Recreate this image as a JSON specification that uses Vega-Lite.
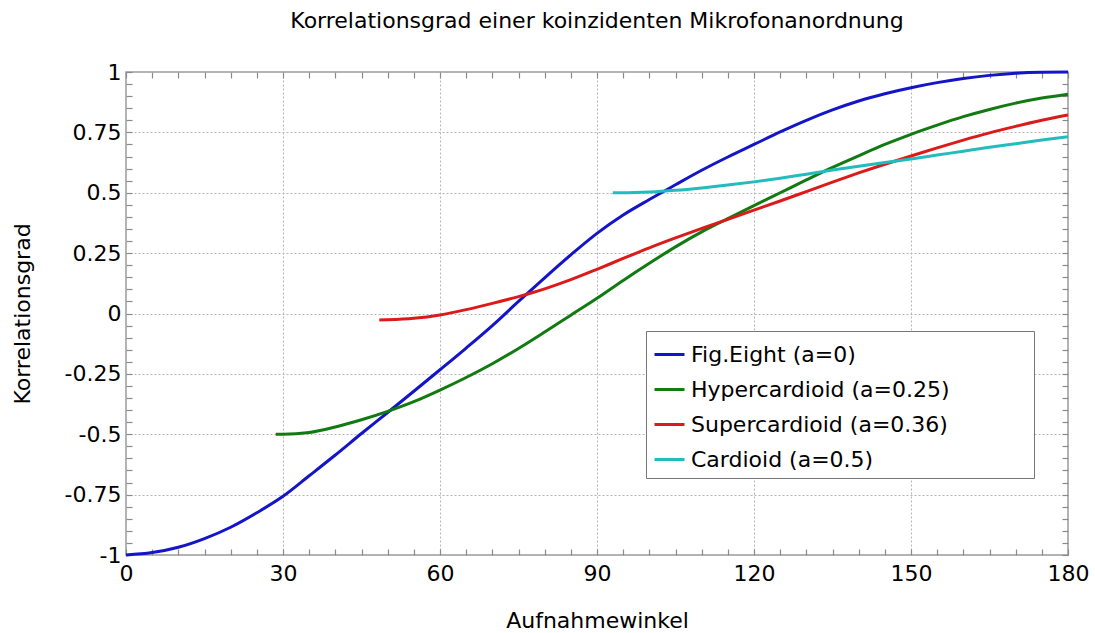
{
  "$schema": "https://vega.github.io/schema/vega-lite/v6.json",
  "autosize": {"type": "none"},
  "padding": {"left": 126, "top": 72, "right": 27, "bottom": 78},
  "width": 942,
  "height": 483,
  "background": "white",
  "title": {
    "text": "Korrelationsgrad einer koinzidenten Mikrofonanordnung",
    "frame": "group",
    "anchor": "middle",
    "offset": 28,
    "fontSize": 22,
    "fontWeight": "normal",
    "font": "DejaVu Sans",
    "color": "black"
  },
  "config": {
    "font": "DejaVu Sans",
    "view": {"stroke": "#9a9a9a", "strokeWidth": 1.5}
  },
  "data": {
    "values": [
      {"w": 0, "k": -1.0, "s": "Fig.Eight (a=0)"},
      {"w": 5, "k": -0.99, "s": "Fig.Eight (a=0)"},
      {"w": 10, "k": -0.968, "s": "Fig.Eight (a=0)"},
      {"w": 15, "k": -0.932, "s": "Fig.Eight (a=0)"},
      {"w": 20, "k": -0.885, "s": "Fig.Eight (a=0)"},
      {"w": 25, "k": -0.825, "s": "Fig.Eight (a=0)"},
      {"w": 30, "k": -0.757, "s": "Fig.Eight (a=0)"},
      {"w": 35, "k": -0.672, "s": "Fig.Eight (a=0)"},
      {"w": 40, "k": -0.586, "s": "Fig.Eight (a=0)"},
      {"w": 45, "k": -0.497, "s": "Fig.Eight (a=0)"},
      {"w": 50, "k": -0.41, "s": "Fig.Eight (a=0)"},
      {"w": 55, "k": -0.322, "s": "Fig.Eight (a=0)"},
      {"w": 60, "k": -0.233, "s": "Fig.Eight (a=0)"},
      {"w": 65, "k": -0.143, "s": "Fig.Eight (a=0)"},
      {"w": 70, "k": -0.05, "s": "Fig.Eight (a=0)"},
      {"w": 75, "k": 0.05, "s": "Fig.Eight (a=0)"},
      {"w": 80, "k": 0.148, "s": "Fig.Eight (a=0)"},
      {"w": 85, "k": 0.243, "s": "Fig.Eight (a=0)"},
      {"w": 90, "k": 0.332, "s": "Fig.Eight (a=0)"},
      {"w": 95, "k": 0.408, "s": "Fig.Eight (a=0)"},
      {"w": 100, "k": 0.472, "s": "Fig.Eight (a=0)"},
      {"w": 105, "k": 0.533, "s": "Fig.Eight (a=0)"},
      {"w": 110, "k": 0.593, "s": "Fig.Eight (a=0)"},
      {"w": 115, "k": 0.648, "s": "Fig.Eight (a=0)"},
      {"w": 120, "k": 0.70, "s": "Fig.Eight (a=0)"},
      {"w": 125, "k": 0.752, "s": "Fig.Eight (a=0)"},
      {"w": 130, "k": 0.80, "s": "Fig.Eight (a=0)"},
      {"w": 135, "k": 0.843, "s": "Fig.Eight (a=0)"},
      {"w": 140, "k": 0.88, "s": "Fig.Eight (a=0)"},
      {"w": 145, "k": 0.91, "s": "Fig.Eight (a=0)"},
      {"w": 150, "k": 0.935, "s": "Fig.Eight (a=0)"},
      {"w": 155, "k": 0.956, "s": "Fig.Eight (a=0)"},
      {"w": 160, "k": 0.973, "s": "Fig.Eight (a=0)"},
      {"w": 165, "k": 0.986, "s": "Fig.Eight (a=0)"},
      {"w": 170, "k": 0.995, "s": "Fig.Eight (a=0)"},
      {"w": 175, "k": 0.999, "s": "Fig.Eight (a=0)"},
      {"w": 180, "k": 1.0, "s": "Fig.Eight (a=0)"},

      {"w": 28.6, "k": -0.5, "s": "Hypercardioid (a=0.25)"},
      {"w": 30, "k": -0.5, "s": "Hypercardioid (a=0.25)"},
      {"w": 35, "k": -0.493, "s": "Hypercardioid (a=0.25)"},
      {"w": 40, "k": -0.47, "s": "Hypercardioid (a=0.25)"},
      {"w": 45, "k": -0.44, "s": "Hypercardioid (a=0.25)"},
      {"w": 50, "k": -0.405, "s": "Hypercardioid (a=0.25)"},
      {"w": 55, "k": -0.365, "s": "Hypercardioid (a=0.25)"},
      {"w": 60, "k": -0.317, "s": "Hypercardioid (a=0.25)"},
      {"w": 65, "k": -0.265, "s": "Hypercardioid (a=0.25)"},
      {"w": 70, "k": -0.208, "s": "Hypercardioid (a=0.25)"},
      {"w": 75, "k": -0.145, "s": "Hypercardioid (a=0.25)"},
      {"w": 80, "k": -0.077, "s": "Hypercardioid (a=0.25)"},
      {"w": 85, "k": -0.007, "s": "Hypercardioid (a=0.25)"},
      {"w": 90, "k": 0.063, "s": "Hypercardioid (a=0.25)"},
      {"w": 95, "k": 0.137, "s": "Hypercardioid (a=0.25)"},
      {"w": 100, "k": 0.208, "s": "Hypercardioid (a=0.25)"},
      {"w": 105, "k": 0.276, "s": "Hypercardioid (a=0.25)"},
      {"w": 110, "k": 0.338, "s": "Hypercardioid (a=0.25)"},
      {"w": 115, "k": 0.393, "s": "Hypercardioid (a=0.25)"},
      {"w": 120, "k": 0.447, "s": "Hypercardioid (a=0.25)"},
      {"w": 125, "k": 0.50, "s": "Hypercardioid (a=0.25)"},
      {"w": 130, "k": 0.553, "s": "Hypercardioid (a=0.25)"},
      {"w": 135, "k": 0.605, "s": "Hypercardioid (a=0.25)"},
      {"w": 140, "k": 0.653, "s": "Hypercardioid (a=0.25)"},
      {"w": 145, "k": 0.70, "s": "Hypercardioid (a=0.25)"},
      {"w": 150, "k": 0.742, "s": "Hypercardioid (a=0.25)"},
      {"w": 155, "k": 0.78, "s": "Hypercardioid (a=0.25)"},
      {"w": 160, "k": 0.815, "s": "Hypercardioid (a=0.25)"},
      {"w": 165, "k": 0.845, "s": "Hypercardioid (a=0.25)"},
      {"w": 170, "k": 0.871, "s": "Hypercardioid (a=0.25)"},
      {"w": 175, "k": 0.892, "s": "Hypercardioid (a=0.25)"},
      {"w": 180, "k": 0.908, "s": "Hypercardioid (a=0.25)"},

      {"w": 48.4, "k": -0.027, "s": "Supercardioid (a=0.36)"},
      {"w": 50, "k": -0.026, "s": "Supercardioid (a=0.36)"},
      {"w": 55, "k": -0.02, "s": "Supercardioid (a=0.36)"},
      {"w": 60, "k": -0.006, "s": "Supercardioid (a=0.36)"},
      {"w": 65, "k": 0.016, "s": "Supercardioid (a=0.36)"},
      {"w": 70, "k": 0.042, "s": "Supercardioid (a=0.36)"},
      {"w": 75, "k": 0.07, "s": "Supercardioid (a=0.36)"},
      {"w": 80, "k": 0.102, "s": "Supercardioid (a=0.36)"},
      {"w": 85, "k": 0.14, "s": "Supercardioid (a=0.36)"},
      {"w": 90, "k": 0.183, "s": "Supercardioid (a=0.36)"},
      {"w": 95, "k": 0.228, "s": "Supercardioid (a=0.36)"},
      {"w": 100, "k": 0.272, "s": "Supercardioid (a=0.36)"},
      {"w": 105, "k": 0.313, "s": "Supercardioid (a=0.36)"},
      {"w": 110, "k": 0.352, "s": "Supercardioid (a=0.36)"},
      {"w": 115, "k": 0.39, "s": "Supercardioid (a=0.36)"},
      {"w": 120, "k": 0.428, "s": "Supercardioid (a=0.36)"},
      {"w": 125, "k": 0.466, "s": "Supercardioid (a=0.36)"},
      {"w": 130, "k": 0.505, "s": "Supercardioid (a=0.36)"},
      {"w": 135, "k": 0.544, "s": "Supercardioid (a=0.36)"},
      {"w": 140, "k": 0.582, "s": "Supercardioid (a=0.36)"},
      {"w": 145, "k": 0.618, "s": "Supercardioid (a=0.36)"},
      {"w": 150, "k": 0.652, "s": "Supercardioid (a=0.36)"},
      {"w": 155, "k": 0.686, "s": "Supercardioid (a=0.36)"},
      {"w": 160, "k": 0.718, "s": "Supercardioid (a=0.36)"},
      {"w": 165, "k": 0.748, "s": "Supercardioid (a=0.36)"},
      {"w": 170, "k": 0.775, "s": "Supercardioid (a=0.36)"},
      {"w": 175, "k": 0.80, "s": "Supercardioid (a=0.36)"},
      {"w": 180, "k": 0.822, "s": "Supercardioid (a=0.36)"},

      {"w": 93, "k": 0.5, "s": "Cardioid (a=0.5)"},
      {"w": 95, "k": 0.5, "s": "Cardioid (a=0.5)"},
      {"w": 100, "k": 0.503, "s": "Cardioid (a=0.5)"},
      {"w": 105, "k": 0.51, "s": "Cardioid (a=0.5)"},
      {"w": 110, "k": 0.52, "s": "Cardioid (a=0.5)"},
      {"w": 115, "k": 0.532, "s": "Cardioid (a=0.5)"},
      {"w": 120, "k": 0.545, "s": "Cardioid (a=0.5)"},
      {"w": 125, "k": 0.56, "s": "Cardioid (a=0.5)"},
      {"w": 130, "k": 0.577, "s": "Cardioid (a=0.5)"},
      {"w": 135, "k": 0.594, "s": "Cardioid (a=0.5)"},
      {"w": 140, "k": 0.61, "s": "Cardioid (a=0.5)"},
      {"w": 145, "k": 0.625, "s": "Cardioid (a=0.5)"},
      {"w": 150, "k": 0.64, "s": "Cardioid (a=0.5)"},
      {"w": 155, "k": 0.656, "s": "Cardioid (a=0.5)"},
      {"w": 160, "k": 0.672, "s": "Cardioid (a=0.5)"},
      {"w": 165, "k": 0.688, "s": "Cardioid (a=0.5)"},
      {"w": 170, "k": 0.703, "s": "Cardioid (a=0.5)"},
      {"w": 175, "k": 0.718, "s": "Cardioid (a=0.5)"},
      {"w": 180, "k": 0.732, "s": "Cardioid (a=0.5)"}
    ]
  },
  "resolve": {"axis": {"x": "independent", "y": "independent"}},
  "layer": [
    {
      "mark": {"type": "line", "strokeWidth": 3, "interpolate": "monotone"},
      "encoding": {
        "x": {
          "field": "w", "type": "quantitative",
          "scale": {"domain": [0, 180], "nice": false, "zero": false},
          "axis": {
            "orient": "bottom",
            "title": "Aufnahmewinkel",
            "titleFontSize": 22, "titleFontWeight": "normal", "titleColor": "black", "titlePadding": 26,
            "values": [0,5,10,15,20,25,30,35,40,45,50,55,60,65,70,75,80,85,90,95,100,105,110,115,120,125,130,135,140,145,150,155,160,165,170,175,180],
            "labelExpr": "datum.value % 30 === 0 ? datum.label : ''",
            "labelFontSize": 22, "labelColor": "black", "labelPadding": 14, "labelFlush": false,
            "tickSize": -6, "tickColor": "#8a8a8a", "tickWidth": 1.2,
            "domain": false,
            "grid": true, "gridColor": "#b5b5b5", "gridDash": [2, 2], "gridWidth": 1,
            "gridOpacity": {"condition": {"test": "datum.value % 30 === 0", "value": 1}, "value": 0}
          }
        },
        "y": {
          "field": "k", "type": "quantitative",
          "scale": {"domain": [-1, 1], "nice": false, "zero": false},
          "axis": {
            "orient": "left",
            "title": "Korrelationsgrad",
            "titleFontSize": 22, "titleFontWeight": "normal", "titleColor": "black", "titlePadding": 30,
            "values": [-1,-0.95,-0.9,-0.85,-0.8,-0.75,-0.7,-0.65,-0.6,-0.55,-0.5,-0.45,-0.4,-0.35,-0.3,-0.25,-0.2,-0.15,-0.1,-0.05,0,0.05,0.1,0.15,0.2,0.25,0.3,0.35,0.4,0.45,0.5,0.55,0.6,0.65,0.7,0.75,0.8,0.85,0.9,0.95,1],
            "labelExpr": "abs(datum.value*4 - round(datum.value*4)) < 0.001 ? '' + (round(datum.value*100)/100) : ''",
            "labelFontSize": 22, "labelColor": "black", "labelPadding": 11, "labelFlush": false,
            "tickSize": -6, "tickColor": "#8a8a8a", "tickWidth": 1.2,
            "domain": false,
            "grid": true, "gridColor": "#b5b5b5", "gridDash": [2, 2], "gridWidth": 1,
            "gridOpacity": {"condition": {"test": "abs(datum.value*4 - round(datum.value*4)) < 0.001", "value": 1}, "value": 0}
          }
        },
        "color": {
          "field": "s", "type": "nominal",
          "scale": {
            "domain": ["Fig.Eight (a=0)", "Hypercardioid (a=0.25)", "Supercardioid (a=0.36)", "Cardioid (a=0.5)"],
            "range": ["#1414c8", "#117a11", "#dc1a1a", "#22bcbc"]
          },
          "legend": {
            "title": null,
            "orient": "none",
            "legendX": 520,
            "legendY": 259,
            "symbolType": "stroke",
            "symbolSize": 900,
            "symbolStrokeWidth": 3,
            "labelFontSize": 22,
            "labelColor": "black",
            "labelOffset": 5,
            "labelLimit": 600,
            "rowPadding": 7,
            "padding": 7,
            "strokeColor": "#777",
            "fillColor": "white",
            "labelExpr": "datum.label + '\u00a0\u00a0\u00a0\u00a0\u00a0\u00a0\u00a0\u00a0\u00a0\u00a0\u00a0\u200b'"
          }
        }
      }
    },
    {
      "mark": {"type": "line", "strokeOpacity": 0},
      "encoding": {
        "x": {
          "field": "w", "type": "quantitative",
          "axis": {
            "orient": "top", "title": null, "labels": false, "grid": false, "domain": false,
            "values": [0,5,10,15,20,25,30,35,40,45,50,55,60,65,70,75,80,85,90,95,100,105,110,115,120,125,130,135,140,145,150,155,160,165,170,175,180],
            "tickSize": -6, "tickColor": "#8a8a8a", "tickWidth": 1.2
          }
        },
        "y": {
          "field": "k", "type": "quantitative",
          "axis": {
            "orient": "right", "title": null, "labels": false, "grid": false, "domain": false,
            "values": [-1,-0.95,-0.9,-0.85,-0.8,-0.75,-0.7,-0.65,-0.6,-0.55,-0.5,-0.45,-0.4,-0.35,-0.3,-0.25,-0.2,-0.15,-0.1,-0.05,0,0.05,0.1,0.15,0.2,0.25,0.3,0.35,0.4,0.45,0.5,0.55,0.6,0.65,0.7,0.75,0.8,0.85,0.9,0.95,1],
            "tickSize": -6, "tickColor": "#8a8a8a", "tickWidth": 1.2
          }
        }
      }
    }
  ]
}
